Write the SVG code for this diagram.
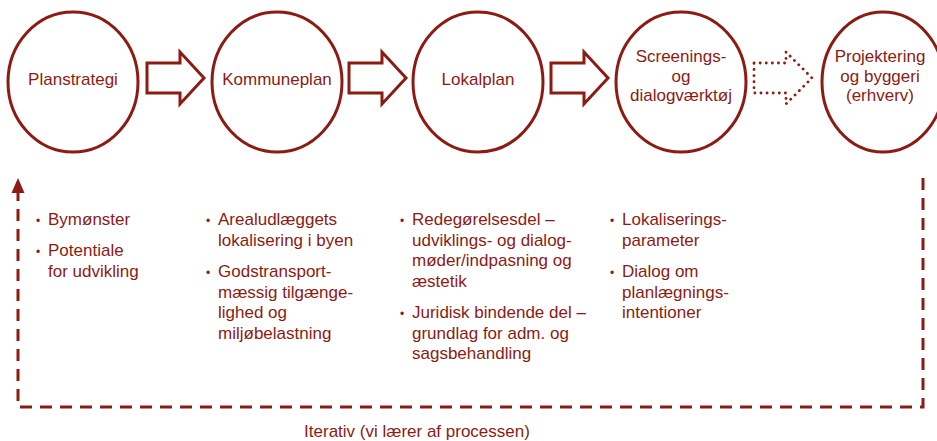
<svg xmlns="http://www.w3.org/2000/svg" width="937" height="441" viewBox="0 0 937 441">
<style>
.node{fill:#fff;stroke:#8C1B13;stroke-width:3}
.arr{fill:#fff;stroke:#8C1B13;stroke-width:3;stroke-linejoin:miter}
.dot{fill:none;stroke:#8C1B13;stroke-width:2.8;stroke-dasharray:0.1 6;stroke-linecap:round}
.t{font-family:"Liberation Sans",Arial,sans-serif;font-size:17px;fill:#8C1B13}
.c{text-anchor:middle}
.b{font-family:"Liberation Sans",Arial,sans-serif;font-size:12px;fill:#8C1B13}
.loop{fill:none;stroke:#8C1B13;stroke-width:3;stroke-dasharray:12 8}
</style>
<rect width="937" height="441" fill="#fff"/>
<g id="connectors">
<path class="arr" d="M147,63 H180 V52 L204,78 L180,104 V93 H147 Z"/>
<path class="arr" d="M349,63 H382 V52 L406,78 L382,104 V93 H349 Z"/>
<path class="arr" d="M551,63 H584 V52 L608,78 L584,104 V93 H551 Z"/>
<path class="dot" d="M754,63 H786 V52 L812,78 L786,104 V93 H754 Z"/>
<path class="loop" d="M923,178 V407 H18 V192"/>
<path d="M18,178 L11.5,193 H24.5 Z" fill="#8C1B13"/>
</g>
<g id="planstrategi">
<ellipse class="node" cx="73" cy="82" rx="65" ry="70"/>
<text class="t c" x="73" y="85">Planstrategi</text>
</g>
<g id="kommuneplan">
<ellipse class="node" cx="277" cy="82" rx="65" ry="70"/>
<text class="t c" x="277" y="85">Kommuneplan</text>
</g>
<g id="lokalplan">
<ellipse class="node" cx="478" cy="82" rx="65" ry="70"/>
<text class="t c" x="478" y="85">Lokalplan</text>
</g>
<g id="screening">
<ellipse class="node" cx="681" cy="82" rx="65" ry="70"/>
<text class="t c" x="681" y="62">Screenings-</text>
<text class="t c" x="681" y="81.5">og</text>
<text class="t c" x="681" y="101">dialogværktøj</text>
</g>
<g id="projektering">
<ellipse class="node" cx="883" cy="82" rx="61" ry="70"/>
<text class="t c" x="880" y="62">Projektering</text>
<text class="t c" x="880" y="81.5">og byggeri</text>
<text class="t c" x="880" y="101">(erhverv)</text>
</g>
<g id="col1">
<text class="b" x="36" y="225">•</text>
<text class="t" x="48" y="225">Bymønster</text>
<text class="b" x="36" y="256">•</text>
<text class="t" x="48" y="256">Potentiale</text>
<text class="t" x="48" y="277">for udvikling</text>
</g>
<g id="col2">
<text class="b" x="206" y="225">•</text>
<text class="t" x="218" y="225">Arealudlæggets</text>
<text class="t" x="218" y="245.5">lokalisering i byen</text>
<text class="b" x="206" y="277">•</text>
<text class="t" x="218" y="277">Godstransport-</text>
<text class="t" x="218" y="297.5">mæssig tilgænge-</text>
<text class="t" x="218" y="318">lighed og</text>
<text class="t" x="218" y="338.5">miljøbelastning</text>
</g>
<g id="col3">
<text class="b" x="400" y="225">•</text>
<text class="t" x="412" y="225">Redegørelsesdel –</text>
<text class="t" x="412" y="245.5">udviklings- og dialog-</text>
<text class="t" x="412" y="266">møder/indpasning og</text>
<text class="t" x="412" y="286.5">æstetik</text>
<text class="b" x="400" y="318">•</text>
<text class="t" x="412" y="318">Juridisk bindende del –</text>
<text class="t" x="412" y="338.5">grundlag for adm. og</text>
<text class="t" x="412" y="359">sagsbehandling</text>
</g>
<g id="col4">
<text class="b" x="610" y="225">•</text>
<text class="t" x="622" y="225">Lokaliserings-</text>
<text class="t" x="622" y="245.5">parameter</text>
<text class="b" x="610" y="277">•</text>
<text class="t" x="622" y="277">Dialog om</text>
<text class="t" x="622" y="297.5">planlægnings-</text>
<text class="t" x="622" y="318">intentioner</text>
</g>
<g id="iterativ">
<text class="t c" x="417" y="437">Iterativ (vi lærer af processen)</text>
</g>
</svg>
